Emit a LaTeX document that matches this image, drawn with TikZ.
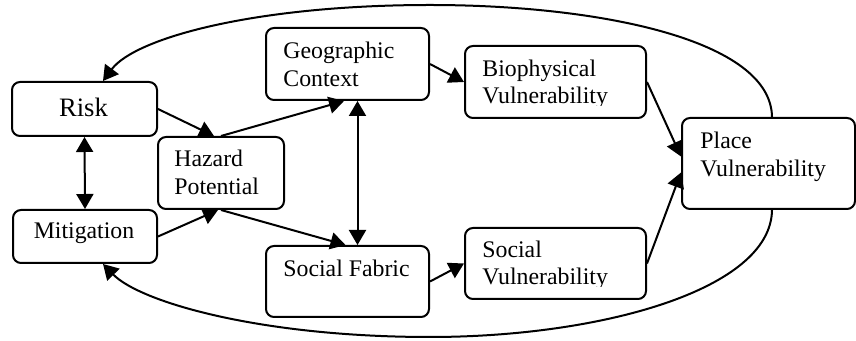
\documentclass[tikz,border=0pt]{standalone}
\usepackage{fontspec}
\setmainfont{Liberation Serif}
\usetikzlibrary{arrows.meta,calc}
\begin{document}
\begin{tikzpicture}[x=0.5pt,y=-0.5pt,
  box/.style={draw,line width=1pt,rounded corners=4pt,inner sep=0pt,anchor=north west},
  txt/.style={inner sep=0pt,anchor=base west,font=\fontsize{11.9pt}{14pt}\selectfont},
  bigtxt/.style={inner sep=0pt,anchor=base,font=\fontsize{13.3pt}{16pt}\selectfont},
  tip/.style={Triangle[length=7.5pt,width=8.5pt]},
  link/.style={line width=1pt,-{Triangle[length=7.5pt,width=8.5pt]}},
  both/.style={line width=1pt,{Triangle[length=7.5pt,width=8.5pt]}-{Triangle[length=7.5pt,width=8.5pt]}}]
\useasboundingbox (0,0) rectangle (856,341);

% boxes
\node[box,minimum width=72.5pt,minimum height=27pt] (risk) at (11,81) {};
\node[box,minimum width=72pt,minimum height=26.5pt] (mit) at (12,209) {};
\node[box,minimum width=63pt,minimum height=36pt] (haz) at (157,136) {};
\node[box,minimum width=81.5pt,minimum height=36pt] (geo) at (265,27) {};
\node[box,minimum width=81.5pt,minimum height=35.5pt] (fab) at (265,245) {};
\node[box,minimum width=90.5pt,minimum height=36pt] (bio) at (464,45) {};
\node[box,minimum width=90.5pt,minimum height=35.5pt] (svul) at (464,227) {};
\node[box,minimum width=86.5pt,minimum height=45.5pt] (place) at (681,117) {};

% labels
\node[bigtxt] (risktxt) at (83.5,117) {Risk};
\node[bigtxt,font=\fontsize{11.9pt}{14pt}\selectfont] (mittxt) at (84,239) {Mitigation};
\node[txt] (haztxta) at (174,167) {Hazard};
\node[txt] (haztxtb) at (174,195) {Potential};
\node[txt] (geotxta) at (283,59) {Geographic};
\node[txt] (geotxtb) at (283,87) {Context};
\node[txt] (fabtxt) at (283,277) {Social Fabric};
\node[txt] (biotxta) at (482,77) {Biophysical};
\begin{scope}
  \clip (464,80) rectangle (645,106);
  \node[txt] (biotxtb) at (482,104) {Vulnerability};
\end{scope}
\node[txt] (svultxta) at (482,258) {Social};
\begin{scope}
  \clip (464,262) rectangle (645,287);
  \node[txt] (svultxtb) at (482,285) {Vulnerability};
\end{scope}
\node[txt] (placetxta) at (700,149) {Place};
\node[txt] (placetxtb) at (700,177) {Vulnerability};

% connectors
\draw[link] (risk.east) -- ([xshift=-3.5pt]haz.north);
\draw[link] (mit.east) -- ([xshift=-1.5pt]haz.south);
\draw[link] (haz.north) -- ([xshift=-1.75pt]geo.south);
\draw[link] (haz.south) -- ([xshift=-1pt]fab.north);
\draw[both] (risk.south) -- (mit.north);
\draw[both] ([xshift=5pt]geo.south) -- ([xshift=5pt]fab.north);
\draw[link] (geo.east) -- (bio.west);
\draw[link] (fab.east) -- (svul.west);
\draw[link] (bio.east) -- ([yshift=3.5pt]place.west);
\draw[link] (svul.east) -- ([yshift=-4.5pt]place.west);

% feedback loops
\draw[link] ([xshift=1.75pt]place.north) .. controls (771,40) and (600,5) .. (430,5)
  .. controls (255,5) and (135,38) .. ([xshift=9.25pt]risk.north);
\draw[link] ([xshift=1.75pt]place.south) .. controls (771,290) and (600,337) .. (430,337)
  .. controls (260,337) and (140,302) .. ([xshift=9pt]mit.south);
\end{tikzpicture}
\end{document}
